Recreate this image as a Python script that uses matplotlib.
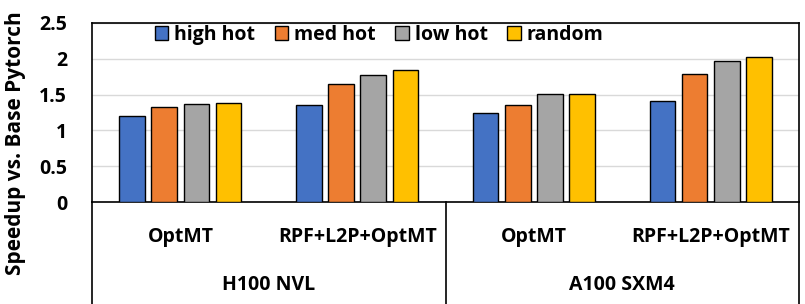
import matplotlib
matplotlib.use("Agg")
import matplotlib.pyplot as plt
import matplotlib.transforms as mtransforms
import numpy as np

plt.rcParams["font.family"] = ["Open Sans", "DejaVu Sans"]
plt.rcParams["font.weight"] = "bold"

systems = ["H100 NVL", "A100 SXM4"]
configs = ["OptMT", "RPF+L2P+OptMT"]
series = ["high hot", "med hot", "low hot", "random"]
colors = ["#4472C4", "#ED7D31", "#A5A5A5", "#FFC000"]

high_hot = [1.20, 1.35, 1.245, 1.41]
med_hot = [1.32, 1.645, 1.355, 1.79]
low_hot = [1.375, 1.78, 1.505, 1.97]
random_ = [1.38, 1.84, 1.515, 2.03]
values = [high_hot, med_hot, low_hot, random_]

FS = 14

fig = plt.figure(figsize=(8.05, 3.04), dpi=100)
ax = fig.add_axes([92 / 805, 1 - 202 / 304, 707 / 805, 179 / 304])

x = np.arange(4)
step = 0.182
width = 0.145
for i, (name, vals, col) in enumerate(zip(series, values, colors)):
    ax.bar(x + (i - 1.5) * step, vals, width, color=col, edgecolor="black",
           linewidth=1.0, label=name, zorder=3)

ax.set_xlim(-0.5, 3.5)
ax.set_ylim(0, 2.5)
ax.set_yticks([0, 0.5, 1, 1.5, 2, 2.5])
ax.set_yticklabels(["0", "0.5", "1", "1.5", "2", "2.5"], fontsize=FS, fontweight="bold")
ax.tick_params(axis="y", length=0, pad=18)
ax.set_xticks([])
ax.grid(axis="y", color="#D9D9D9", linewidth=1.0, zorder=0)
for s in ax.spines.values():
    s.set_color("black")
    s.set_linewidth(1.2)

# category axis below the plot
trans = mtransforms.blended_transform_factory(ax.transData, fig.transFigure)
bottom = 1 - 202 / 304
for xv in [-0.5, 1.5, 3.5]:
    ax.plot([xv, xv], [0, bottom], color="black", linewidth=1.2,
            transform=trans, clip_on=False)
for xi in x:
    ax.text(xi, 1 - 237 / 304, configs[xi % 2], transform=trans, ha="center",
            va="center", fontsize=FS, fontweight="bold")
for k, name in enumerate(systems):
    ax.text(0.5 + 2 * k, 1 - 285 / 304, name, transform=trans, ha="center",
            va="center", fontsize=FS, fontweight="bold")

fig.text(16 / 805, 1 - 143 / 304, "Speedup vs. Base Pytorch", rotation=90,
         ha="center", va="center", fontsize=15, fontweight="bold")

leg = ax.legend(loc="center", bbox_to_anchor=(379 / 805, 1 - 35 / 304),
                bbox_transform=fig.transFigure, ncol=4, frameon=False,
                prop={"size": FS, "weight": "bold"}, handlelength=0.7,
                handleheight=0.7, handletextpad=0.3, columnspacing=1.0,
                borderpad=0.1)

fig.savefig("out.png", dpi=100)
